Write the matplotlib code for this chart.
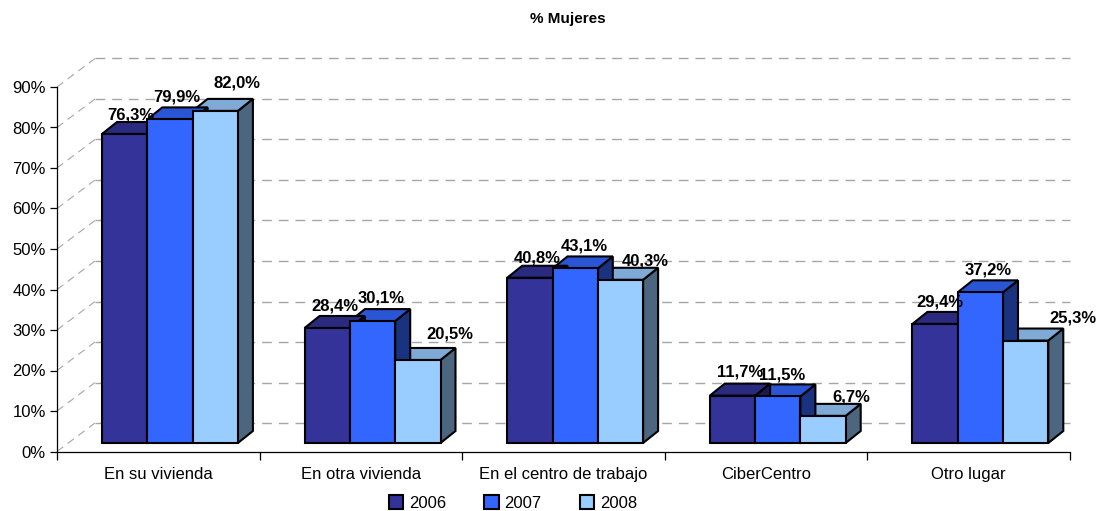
import numpy as np
import matplotlib
matplotlib.use('Agg')
import matplotlib.pyplot as plt
from matplotlib.patches import Polygon, Patch

plt.rcParams['font.family'] = ['Liberation Sans', 'DejaVu Sans']

categories = ['En su vivienda', 'En otra vivienda', 'En el centro de trabajo', 'CiberCentro', 'Otro lugar']
years = ['2006', '2007', '2008']
values_2006 = [76.3, 28.4, 40.8, 11.7, 29.4]
values_2007 = [79.9, 30.1, 43.1, 11.5, 37.2]
values_2008 = [82.0, 20.5, 40.3, 6.7, 25.3]
yticks = [0, 10, 20, 30, 40, 50, 60, 70, 80, 90]

series = [values_2006, values_2007, values_2008]
front_colors = ['#333399', '#3366FF', '#99CCFF']
top_colors = ['#2A2A80', '#2A55D5', '#7FAAD5']
side_colors = ['#1A1A4D', '#1A3380', '#4D6680']

# label nudges in pixels, from bar centre / bar top
label_dx = [[6, 7, 22], [8, 9, 32], [7, 9, 25], [8, 4, 28], [5, 8, 47]]
label_dy = [[19, 22, 28], [22, 23, 26], [20, 22, 19], [24, 21, 19], [22, 22, 23]]

W, H = 1099, 511
fig = plt.figure(figsize=(W / 100, H / 100), dpi=100)
left, right, top, bottom = 57, 1070, 87, 451.5
ax = fig.add_axes([left / W, 1 - bottom / H, (right - left) / W, (bottom - top) / H])
ax.set_xlim(0, 5)
ax.set_ylim(0, 90)

px_x = 5 / (right - left)
px_y = 90 / (bottom - top)

# back wall
wall_dx, wall_dy = 38 * px_x, 28.5 * px_y
for v in yticks:
    ax.plot([0, wall_dx], [v, v + wall_dy], color='#A6A6A6', lw=0.8, ls=(0, (7, 5)), clip_on=False, zorder=1)
    ax.plot([wall_dx, 5], [v + wall_dy, v + wall_dy], color='#A6A6A6', lw=1.0, ls=(0, (7, 5)), clip_on=False, zorder=1)

# 3d bars
bar_w = 45.3 * px_x
start = 45 * px_x
base = 8.5 * px_y
dx, dy = 15 * px_x, 12 * px_y
edge = dict(edgecolor='black', linewidth=1.5, joinstyle='miter')

for c in range(len(categories)):
    for s in [2, 1, 0]:
        v = series[s][c]
        x0 = c + start + s * bar_w
        x1 = x0 + bar_w
        y1 = base + v
        ax.add_patch(Polygon([(x1, base), (x1 + dx, base + dy), (x1 + dx, y1 + dy), (x1, y1)],
                             facecolor=side_colors[s], clip_on=False, zorder=2 + 0.1 * (2 - s), **edge))
        ax.add_patch(Polygon([(x0, y1), (x0 + dx, y1 + dy), (x1 + dx, y1 + dy), (x1, y1)],
                             facecolor=top_colors[s], clip_on=False, zorder=2 + 0.1 * (2 - s), **edge))
        ax.bar(x0, v, bar_w, bottom=base, align='edge', color=front_colors[s], clip_on=False,
               zorder=3 + 0.1 * s, **edge)

for c in range(len(categories)):
    for s in range(3):
        v = series[s][c]
        xc = c + start + (s + 0.5) * bar_w
        ax.annotate(f'{v:.1f}%'.replace('.', ','), (xc, base + v),
                    xytext=(label_dx[c][s] * 0.72, label_dy[c][s] * 0.72), textcoords='offset points',
                    ha='center', va='center', fontsize=12, fontweight='bold', color='black',
                    annotation_clip=False, zorder=6)

for name in ['top', 'right']:
    ax.spines[name].set_visible(False)
for name in ['left', 'bottom']:
    ax.spines[name].set_linewidth(0.9)
    ax.spines[name].set_zorder(5)

ax.set_yticks(yticks)
ax.set_yticklabels([f'{v}%' for v in yticks], fontsize=12)
ax.set_xticks(range(6))
ax.set_xticklabels([])
ax.set_xticks(np.arange(5) + 0.5, minor=True)
ax.set_xticklabels(categories, minor=True, fontsize=12)
ax.tick_params(axis='x', which='minor', length=0, pad=11)
ax.tick_params(axis='x', which='major', length=6, width=0.9, direction='out')
ax.tick_params(axis='y', length=5, width=0.9, direction='out', pad=3)

handles = [Patch(facecolor=front_colors[i], edgecolor='black', linewidth=1.5, label=years[i]) for i in range(3)]
fig.legend(handles=handles, loc='center', bbox_to_anchor=(513 / W, 1 - 503 / H), ncol=3, frameon=False,
           fontsize=12, handlelength=0.85, handleheight=0.85, handletextpad=0.35, columnspacing=2.3)

fig.text(568 / W, 1 - 19 / H, '% Mujeres', ha='center', va='center', fontsize=11, fontweight='bold')

fig.savefig('out.png', dpi=100)
